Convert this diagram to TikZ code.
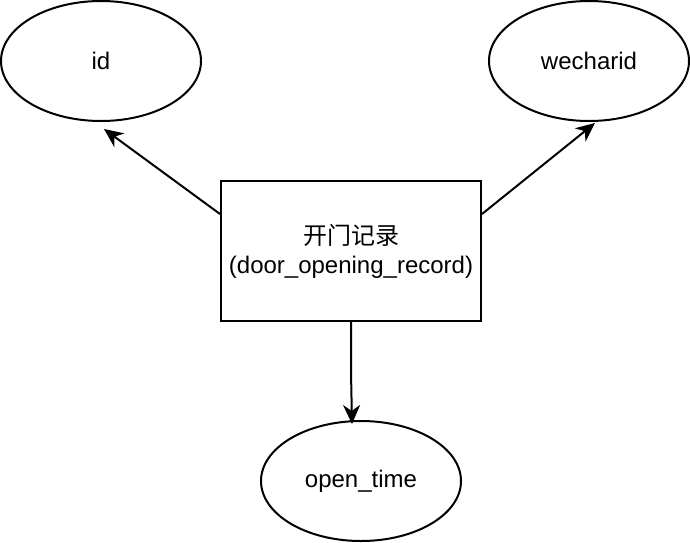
\documentclass[tikz,border=0pt]{standalone}
\usepackage{fontspec}
\setmainfont{Liberation Sans}
\newfontfamily\cjk{Noto Sans CJK SC}
\usetikzlibrary{shapes.geometric,arrows.meta}

\tikzset{
  attr/.style={draw, ellipse, line width=2pt, minimum width=200pt, minimum height=120pt, inner sep=0pt, font=\fontsize{24}{29}\selectfont},
  entity/.style={draw, rectangle, line width=2pt, minimum width=260pt, minimum height=140pt, inner sep=0pt, align=center, font=\fontsize{24}{29}\selectfont},
  arr/.style={line width=2pt, -{Stealth[length=19pt, width=17pt, inset=6pt]}}
}

\begin{document}
\begin{tikzpicture}[x=1pt, y=-1pt]
\useasboundingbox (0,0) rectangle (690,542);

\node[attr] (id) at (101, 61) {\raisebox{-2pt}{id}};
\node[attr] (wecharid) at (589, 61) {\raisebox{-2pt}{wecharid}};
\node[attr] (opentime) at (361, 481) {\raisebox{-2pt}{open\_time}};
\node[entity] (record) at (351, 251) {{\cjk 开门记录}\\(door\_opening\_record)};

\coordinate (idtip) at (104, 129);
\coordinate (wechartip) at (595, 123);
\coordinate (opentip) at (352, 424);

\draw[arr] ([yshift=-34pt]record.north west) -- (idtip);
\draw[arr] ([yshift=-34pt]record.north east) -- (wechartip);
\draw[arr] (record.south) -- (351, 372) -- (opentip);
\end{tikzpicture}
\end{document}
